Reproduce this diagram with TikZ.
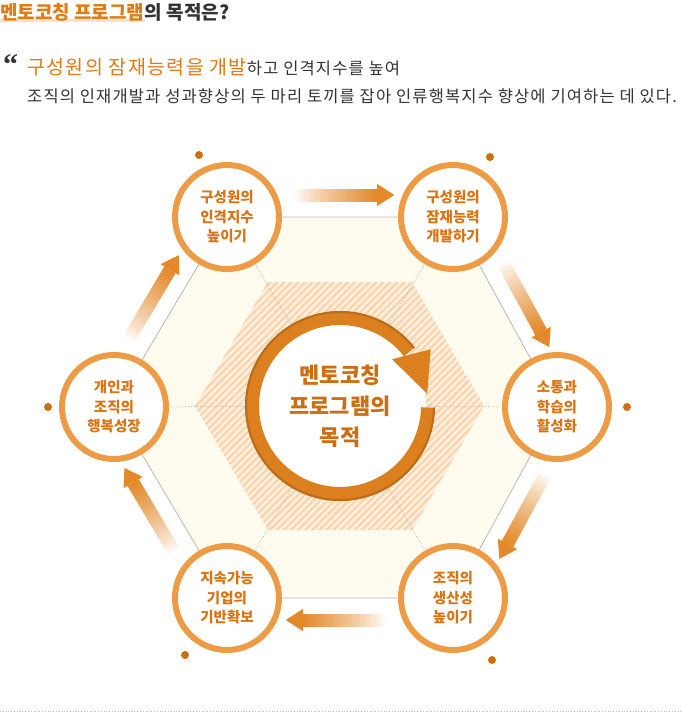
\documentclass[tikz,border=0pt]{standalone}
\usepackage{fontspec}
\setmainfont{Noto Sans CJK KR}
\newfontfamily\qfont{Liberation Serif}
\newfontfamily\wide{Noto Sans CJK KR}[LetterSpace=7]
\usetikzlibrary{calc,patterns.meta}
\definecolor{tor}{HTML}{E07A12}
\definecolor{tdark}{HTML}{333333}
\definecolor{ringc}{HTML}{EE9B45}
\definecolor{ctext}{HTML}{DA7312}
\definecolor{dotc}{HTML}{CF6E0E}
\definecolor{arrc}{HTML}{E3892A}
\definecolor{hexfill}{HTML}{FFFBEF}
\definecolor{hexline}{HTML}{B9B9B9}
\definecolor{hatchbg}{HTML}{FDEEDD}
\definecolor{hatchfg}{HTML}{F8D3A9}
\definecolor{bigring}{HTML}{DC7F1E}
\pgfdeclarelayer{bg}
\pgfsetlayers{bg,main}
\tikzset{
  stage/.style={circle,draw=ringc,line width=6pt,fill=white,minimum size=104pt,inner sep=0pt,
    align=center,text=ctext,font=\fontsize{14.5}{19.5}\selectfont\bfseries},
  dot/.style={circle,fill=dotc,inner sep=0pt,minimum size=8pt},
  spoke/.style={hexline,dotted,line width=0.9pt},
  txt/.style={anchor=base west,inner sep=0pt},
}

\begin{document}
\begin{tikzpicture}[x=1pt,y=-1pt]
\useasboundingbox (0,0) rectangle (681,715);
% heading
\node[txt,text=tor,font=\fontsize{19}{19}\selectfont\bfseries] (ttl) at (0,19) {멘토코칭 프로그램};
\node[txt,text=tdark,font=\fontsize{19}{19}\selectfont\bfseries] (ttl2) at (ttl.base east) {의 목적은?};
\begin{pgfonlayer}{bg}
\draw[line width=3pt,tor!22] ([yshift=-1pt]ttl.base west) -- ([yshift=-1pt]ttl.base east);
\end{pgfonlayer}
\node[txt,text=tdark,font=\qfont\fontsize{30}{30}\selectfont\bfseries] (qm) at (3,74) {“};
\node[txt,text=tdark] (q1) at (27,74) {{\color{tor}\wide\fontsize{19.5}{18}\selectfont 구성원의 잠재능력을 개발}{\wide\fontsize{16.5}{16}\selectfont 하고 인격지수를 높여}};
\node[txt,text=tdark,font=\wide\fontsize{16.5}{16}\selectfont] (q2) at (27,102) {조직의 인재개발과 성과향상의 두 마리 토끼를 잡아 인류행복지수 향상에 기여하는 데 있다.};

% hexagon corners
\coordinate (c) at (340,406);
\coordinate (pTL) at (227,217); \coordinate (pTR) at (453,217);
\coordinate (pR) at (557,407); \coordinate (pBR) at (453,598);
\coordinate (pBL) at (227,598); \coordinate (pL) at (114,407);
\filldraw[fill=hexfill,draw=hexline,line width=0.8pt] (pTL)--(pTR)--(pR)--(pBR)--(pBL)--(pL)--cycle;
\fill[hatchbg] ($(c)+(-72,-124)$)--($(c)+(72,-124)$)--($(c)+(144,0)$)--($(c)+(72,124)$)--($(c)+(-72,124)$)--($(c)+(-145,0)$)--cycle;
\fill[pattern={Lines[angle=45,distance=5pt,line width=2pt]},pattern color=hatchfg]
  ($(c)+(-72,-124)$)--($(c)+(72,-124)$)--($(c)+(144,0)$)--($(c)+(72,124)$)--($(c)+(-72,124)$)--($(c)+(-145,0)$)--cycle;
\foreach \p in {pTL,pTR,pR,pBR,pBL,pL} \draw[spoke] (c) -- (\p);

% centre
\node[circle,fill=white,minimum size=172pt,inner sep=0pt,align=center,text=ctext!95!black,
  font=\fontsize{22}{31}\selectfont\bfseries] (goal) at (c) {멘토코칭\\프로그램의\\목적};
\begin{scope}[shift={(goal.center)}]
\draw[bigring,line width=14pt] plot[domain=1:322,samples=90] ({88*cos(\x)},{88*sin(\x)});
\draw[bigring!85!black,line width=2pt] plot[domain=1:322,samples=90] ({94*cos(\x)},{94*sin(\x)});
\fill[bigring] ({70*cos(-42)},{70*sin(-42)}) -- ({107*cos(-32)},{107*sin(-32)}) -- ({88*cos(-8)},{88*sin(-8)}) -- cycle;
\end{scope}

% stages
\node[stage] (TL) at (pTL) {구성원의\\인격지수\\높이기};
\node[stage] (TR) at (pTR) {구성원의\\잠재능력\\개발하기};
\node[stage] (R) at (pR) {소통과\\학습의\\활성화};
\node[stage] (BR) at (pBR) {조직의\\생산성\\높이기};
\node[stage] (BL) at (pBL) {지속가능\\기업의\\기반확보};
\node[stage] (L) at (pL) {개인과\\조직의\\행복성장};

\node[dot] (dTL) at ([shift={(-28,-62)}]TL.center) {};
\node[dot] (dTR) at ([shift={(37,-60)}]TR.center) {};
\node[dot] (dR) at ([shift={(70,0)}]R.center) {};
\node[dot] (dBR) at ([shift={(39,62)}]BR.center) {};
\node[dot] (dBL) at ([shift={(-42,57)}]BL.center) {};
\node[dot] (dL) at ([shift={(-66,0)}]L.center) {};

% fading arrows
\foreach \a/\b in {TL/TR,TR/R,R/BR,BR/BL,BL/L,L/TL}{
  \coordinate (s) at ($(\a.center)!0.3!(\b.center)!22pt!90:(\b.center)$);
  \coordinate (e) at ($(\a.center)!0.74!(\b.center)!22pt!90:(\b.center)$);
  \coordinate (h) at ($(e)!17pt!(s)$);
  \foreach \i in {0,...,29}{
    \pgfmathsetmacro\pc{100*((\i+0.5)/30)^0.8}
    \draw[line width=13pt,draw=arrc!\pc!white] ($(s)!{\i/30}!(h)$) -- ($(s)!{min(1,(\i+1.15)/30)}!(h)$);
  }
  \fill[arrc] (e) -- ($(h)!11pt!90:(e)$) -- ($(h)!11pt!-90:(e)$) -- cycle;
}

\draw[hexline,dotted,line width=0.8pt] (0,711) -- (681,711);
\end{tikzpicture}
\end{document}
